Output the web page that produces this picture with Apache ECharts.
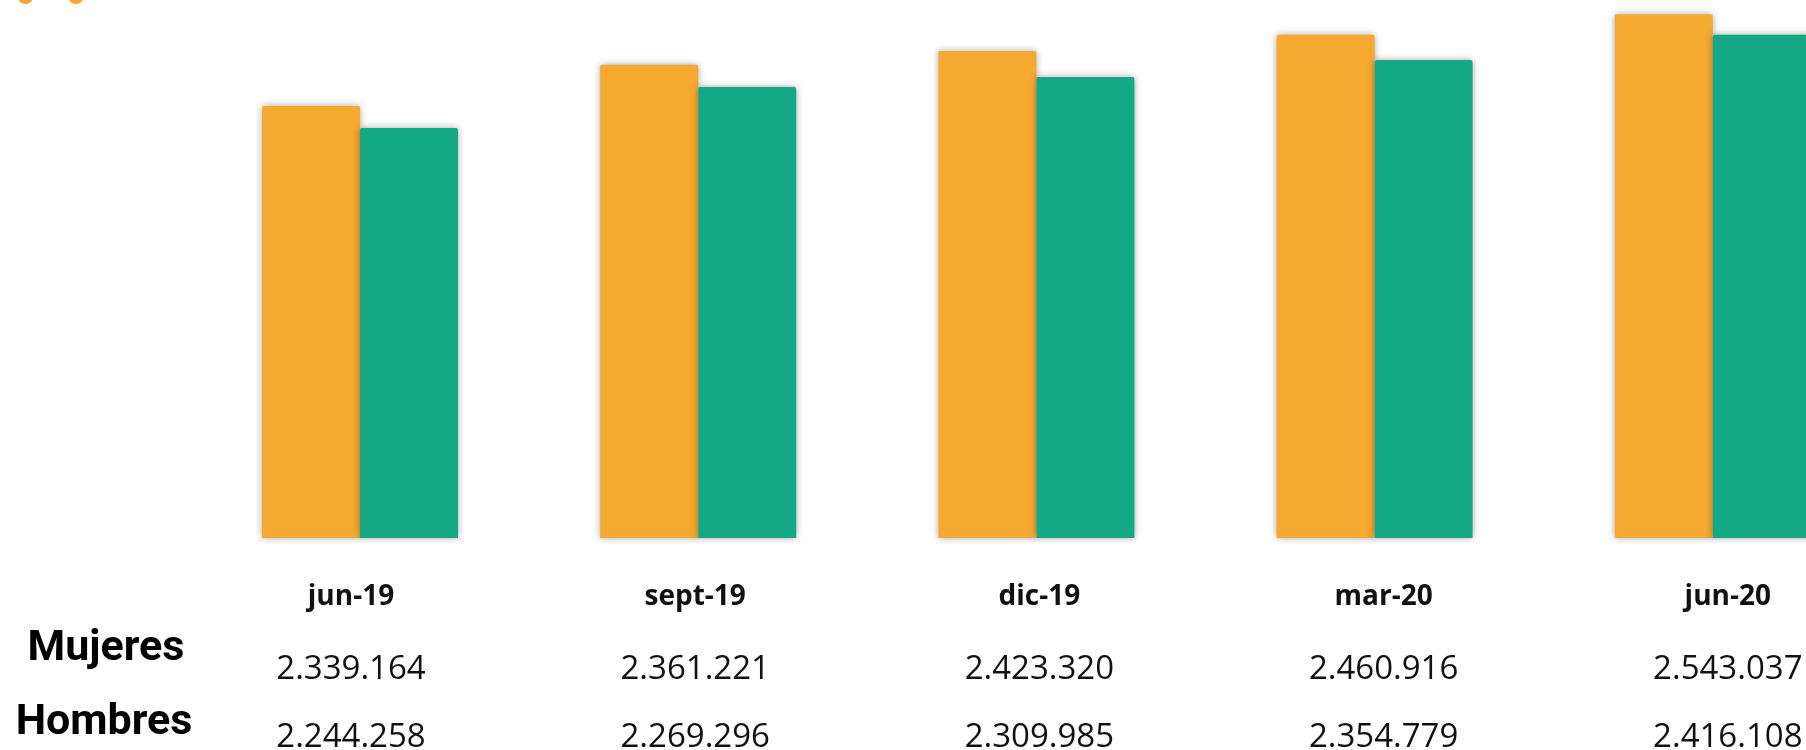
<!DOCTYPE html>
<html>
<head>
<meta charset="utf-8">
<script src="https://cdn.jsdelivr.net/npm/echarts@6/dist/echarts.min.js"></script>
<style>
html,body{margin:0;padding:0;background:#ffffff;}
#chart{width:1806px;height:750px;}
</style>
</head>
<body>
<div id="chart"></div>
<script>
// Categories (periods)
var categories = ['jun-19', 'sept-19', 'dic-19', 'mar-20', 'jun-20'];
// Row labels of the data table
var rowLabels = ['Mujeres', 'Hombres'];
// Values printed in the table
var tableMujeres = ['2.339.164', '2.361.221', '2.423.320', '2.460.916', '2.543.037'];
var tableHombres = ['2.244.258', '2.269.296', '2.309.985', '2.354.779', '2.416.108'];
// Bar heights (hidden axis, 1.000.000 .. 2.560.000)
var barMujeres = [2253000, 2372000, 2412000, 2459000, 2519000];
var barHombres = [2189000, 2308000, 2337000, 2386000, 2459000];

var ORANGE = '#F6A931';
var GREEN = '#15A885';

var chart = echarts.init(document.getElementById('chart'), null, {renderer: 'canvas'});

var labelFont = '"Open Sans", "Noto Sans", sans-serif';

var option = {
  backgroundColor: '#ffffff',
  animation: false,
  grid: [
    {left: 190.9, width: 1691, top: 0, height: 538, outerBoundsMode: 'none', containLabel: false},
    {left: 178.9, width: 1721, top: 540, height: 1, outerBoundsMode: 'none', containLabel: false}
  ],
  xAxis: [
    {type: 'category', gridIndex: 0, data: categories, show: false},
    {
      type: 'category', gridIndex: 1, data: categories, position: 'bottom',
      axisLine: {show: false}, axisTick: {show: false}, splitLine: {show: false},
      axisLabel: {interval: 0, margin: 56, verticalAlign: 'middle',
        fontFamily: labelFont, fontWeight: 'bold', fontSize: 28, color: '#111111'}
    },
    {
      type: 'category', gridIndex: 1, data: tableMujeres, position: 'bottom',
      axisLine: {show: false}, axisTick: {show: false}, splitLine: {show: false},
      axisLabel: {interval: 0, margin: 129, verticalAlign: 'middle',
        fontFamily: labelFont, fontSize: 33, color: '#111111'}
    },
    {
      type: 'category', gridIndex: 1, data: tableHombres, position: 'bottom',
      axisLine: {show: false}, axisTick: {show: false}, splitLine: {show: false},
      axisLabel: {interval: 0, margin: 197, verticalAlign: 'middle',
        fontFamily: labelFont, fontSize: 33, color: '#111111'}
    }
  ],
  yAxis: [
    {type: 'value', gridIndex: 0, min: 1000000, max: 2560000, show: false},
    {type: 'value', gridIndex: 1, min: 0, max: 1, show: false}
  ],
  series: [
    {
      name: rowLabels[0], type: 'bar', xAxisIndex: 0, yAxisIndex: 0,
      data: barMujeres, barWidth: 98, barGap: '0%',
      itemStyle: {color: ORANGE, borderRadius: [2, 2, 0, 0],
        shadowBlur: 7, shadowColor: 'rgba(0,0,0,0.35)'}
    },
    {
      name: rowLabels[1], type: 'bar', xAxisIndex: 0, yAxisIndex: 0,
      data: barHombres, barWidth: 98, barGap: '0%',
      itemStyle: {color: GREEN, borderRadius: [2, 2, 0, 0],
        shadowBlur: 7, shadowColor: 'rgba(0,0,0,0.35)'}
    }
  ],
  graphic: [
    {type: 'circle', shape: {cx: 25.5, cy: -4, r: 8}, style: {fill: ORANGE}, silent: true},
    {type: 'circle', shape: {cx: 76, cy: -4, r: 8}, style: {fill: ORANGE}, silent: true},
    {type: 'text', x: 106, y: 649, style: {text: rowLabels[0], fill: '#000000',
      font: 'bold 43px Roboto, "Noto Sans", sans-serif', align: 'center', verticalAlign: 'middle'}},
    {type: 'text', x: 104, y: 723, style: {text: rowLabels[1], fill: '#000000',
      font: 'bold 43px Roboto, "Noto Sans", sans-serif', align: 'center', verticalAlign: 'middle'}}
  ]
};

chart.setOption(option);
</script>
</body>
</html>
